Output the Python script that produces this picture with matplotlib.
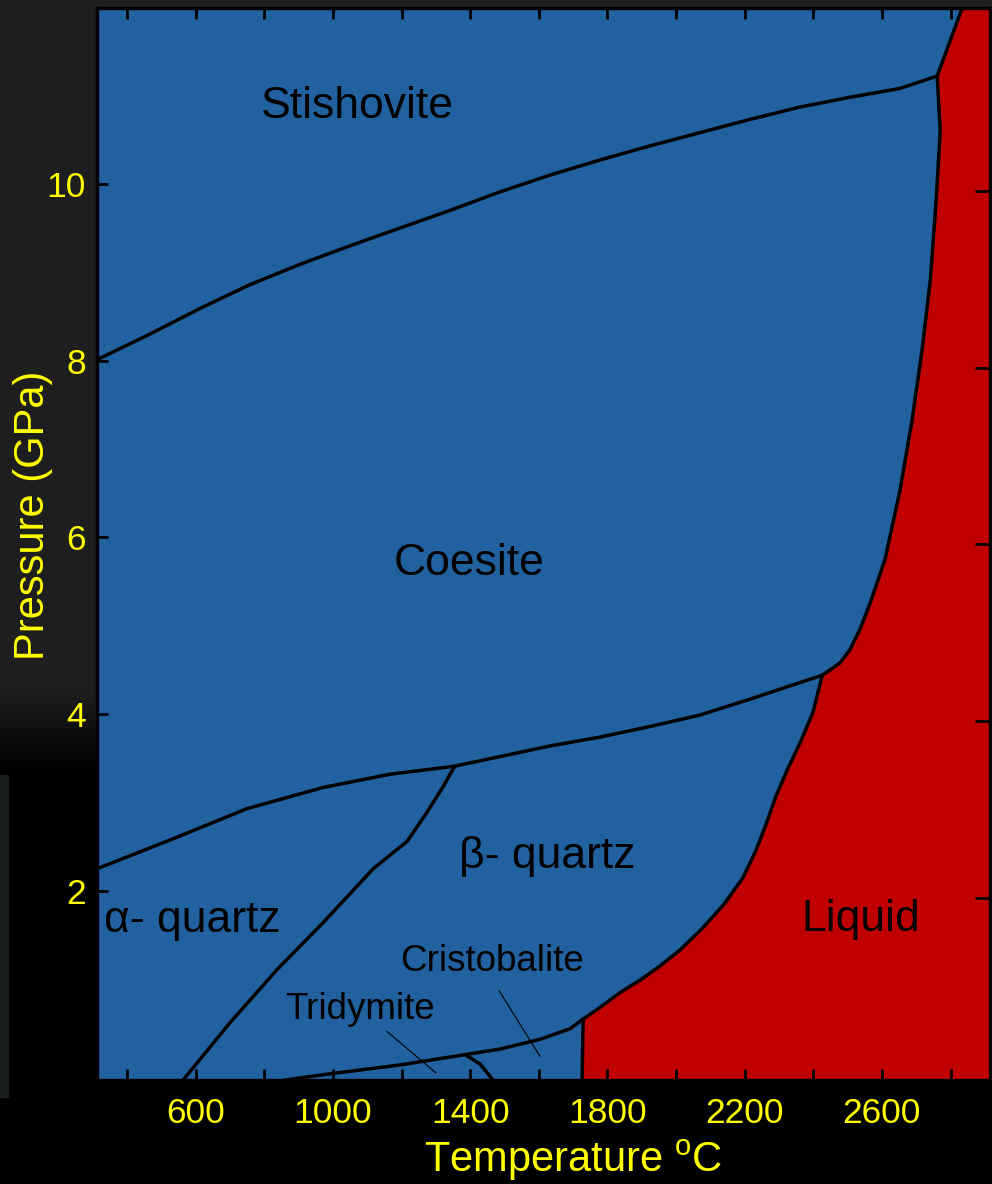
import matplotlib
matplotlib.use("Agg")
import matplotlib.pyplot as plt
import numpy as np

plt.rcParams['font.family'] = ['Liberation Sans', 'DejaVu Sans']
plt.rcParams['mathtext.fontset'] = 'custom'
plt.rcParams['mathtext.rm'] = 'Liberation Sans'

# phase boundaries of SiO2, temperature (C) vs pressure (GPa)
coe_sti_T = [312, 466, 612, 758, 904, 1050, 1195, 1341, 1487, 1633, 1778, 1924, 2070, 2216, 2362, 2507, 2653, 2761]
coe_sti_P = [8.01, 8.30, 8.59, 8.86, 9.09, 9.30, 9.50, 9.70, 9.91, 10.10, 10.27, 10.43, 10.58, 10.73, 10.87, 10.98, 11.08, 11.22]

sti_melt_T = [2761, 2834]
sti_melt_P = [11.22, 11.99]

coe_melt_T = [2761, 2770, 2758, 2741, 2717, 2688, 2653, 2609, 2566, 2536, 2507, 2478, 2426]
coe_melt_P = [11.22, 10.60, 9.81, 8.91, 8.12, 7.33, 6.54, 5.75, 5.26, 4.96, 4.73, 4.58, 4.44]

qtz_melt_T = [2426, 2399, 2362, 2324, 2290, 2262, 2232, 2195, 2140, 2075, 2011, 1953, 1895, 1837, 1778, 1729]
qtz_melt_P = [4.44, 4.02, 3.68, 3.37, 3.06, 2.75, 2.45, 2.15, 1.85, 1.57, 1.33, 1.15, 0.99, 0.85, 0.68, 0.55]

cri_melt_T = [1729, 1726]
cri_melt_P = [0.55, -0.14]

coe_qtz_T = [312, 534, 749, 971, 1166, 1353, 1487, 1633, 1778, 1924, 2070, 2216, 2332, 2426]
coe_qtz_P = [2.25, 2.59, 2.93, 3.17, 3.32, 3.41, 3.52, 3.64, 3.74, 3.86, 3.99, 4.17, 4.32, 4.44]

alpha_beta_T = [563, 700, 837, 971, 1117, 1216, 1274, 1321, 1353]
alpha_beta_P = [-0.14, 0.51, 1.11, 1.64, 2.25, 2.56, 2.89, 3.18, 3.40]

trid_T = [860, 991, 1195, 1341, 1487, 1603, 1691, 1729]
trid_P = [-0.14, -0.07, 0.03, 0.12, 0.21, 0.32, 0.44, 0.55]

trid_cri_T = [1388, 1429, 1466]
trid_cri_P = [0.14, 0.04, -0.14]

labels = ["Stishovite", "Coesite", "\u03b2- quartz", "\u03b1- quartz", "Liquid"]
label_T = [1070, 1397, 1624, 589, 2539]
label_P = [10.87, 5.71, 2.39, 1.66, 1.68]

small_labels = ["Cristobalite", "Tridymite"]
small_T = [1464, 1079]
small_P = [1.20, 0.66]
leader_T = [[1484, 1603], [1157, 1300]]
leader_P = [[0.87, 0.13], [0.41, -0.06]]

xlim = (312, 2915)
ylim = (-0.14, 11.99)

blue = '#2261A0'
red = '#C00000'
yellow = '#FFFF00'

fig = plt.figure(figsize=(9.92, 11.84), dpi=100)
fig.patch.set_facecolor('black')

# dark backdrop, grey at the top fading to black
bg = fig.add_axes([0, 0, 1, 1])
bg.set_axis_off()
rows = np.zeros((1184, 992))
yy = np.arange(1184)[:, None]
rows[:] = np.where(yy < 690, 0.118, np.clip(0.118 - (yy - 690) / 80 * 0.118, 0, None))
img = np.dstack([rows, rows, rows])
img[775:1098, 0:9] = [0.10, 0.12, 0.12]
bg.imshow(img, aspect='auto', extent=(0, 1, 0, 1), origin='upper')
bg.set_xlim(0, 1)
bg.set_ylim(0, 1)

ax = fig.add_axes([97 / 992, 104 / 1184, 893 / 992, 1072 / 1184])
ax.set_facecolor(blue)
ax.set_xlim(*xlim)
ax.set_ylim(*ylim)

# liquid field
liq_T = sti_melt_T[::-1] + coe_melt_T[1:] + qtz_melt_T[1:] + [cri_melt_T[1], xlim[1], xlim[1]]
liq_P = sti_melt_P[::-1] + coe_melt_P[1:] + qtz_melt_P[1:] + [cri_melt_P[1], ylim[0], ylim[1]]
ax.fill(liq_T, liq_P, color=red, lw=0)

lw = 2.5
for T, P in [(coe_sti_T, coe_sti_P), (sti_melt_T, sti_melt_P), (coe_melt_T, coe_melt_P),
             (qtz_melt_T, qtz_melt_P), (cri_melt_T, cri_melt_P), (coe_qtz_T, coe_qtz_P),
             (alpha_beta_T, alpha_beta_P), (trid_T, trid_P), (trid_cri_T, trid_cri_P)]:
    ax.plot(T, P, color='black', lw=lw, solid_capstyle='round', solid_joinstyle='round')

for name, T, P in zip(labels, label_T, label_P):
    ax.text(T, P, name, fontsize=32, color='black', ha='center', va='center')

for name, T, P, lt, lp in zip(small_labels, small_T, small_P, leader_T, leader_P):
    ax.text(T, P, name, fontsize=26.5, color='black', ha='center', va='center')
    ax.plot(lt, lp, color='black', lw=0.8)

ax.set_xticks(np.arange(600, 2601, 400))
ax.set_xticks(np.arange(400, 2801, 400), minor=True)
ax.set_yticks([2, 4, 6, 8, 10])
ax.tick_params(axis='both', which='both', direction='in', length=8, width=2,
               color='black', labelcolor=yellow, labelsize=25.5)
ax.tick_params(axis='x', which='both', top=True, pad=12)
ax.tick_params(axis='y', which='both', pad=8)
for sp in ax.spines.values():
    sp.set_color('black')
    sp.set_linewidth(2.4)

# right-hand ticks
ax2 = ax.twinx()
ax2.set_ylim(ylim[0] + 0.08, ylim[1] + 0.08)
ax2.set_yticks([2, 4, 6, 8, 10])
ax2.tick_params(axis='y', direction='in', length=11, width=2, color='black', labelright=False)
ax2.spines['right'].set_visible(False)

fig.text(0.578, 0.0203, 'Temperature $^{\\mathrm{o}}$C', color=yellow, fontsize=30,
         ha='center', va='center')
fig.text(0.033, 0.565, 'Pressure (GPa)', color=yellow, fontsize=30,
         ha='center', va='center', rotation=90)

fig.savefig('out.png', dpi=100, facecolor=fig.get_facecolor())
